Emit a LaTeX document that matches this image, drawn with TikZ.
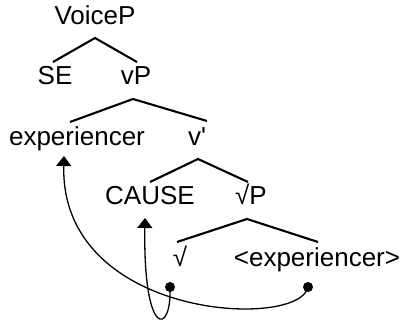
\documentclass[tikz,border=0pt]{standalone}
\usepackage{fontspec}
\setmainfont{Liberation Sans}
\newfontfamily\plainfont{Liberation Sans}
\usetikzlibrary{arrows.meta}
\begin{document}
\begin{tikzpicture}[x=1pt,y=-1pt,
  lbl/.style={anchor=base,inner sep=0pt,font=\plainfont\fontsize{26}{30}\selectfont},
  branch/.style={line width=2.1pt},
  mv/.style={line width=1.3pt,-{Triangle[width=15pt,length=10pt]}},
  dotn/.style={circle,fill=black,inner sep=0pt,minimum size=10pt}]
\useasboundingbox (0,0) rectangle (400,323);
\node[lbl] (voicep) at (95,25) {VoiceP};
\node[lbl] (se) at (55,85) {SE};
\node[lbl] (vp) at (136,85) {vP};
\node[lbl] (exp) at (77,146) {experiencer};
\node[lbl] (vbar) at (197,146) {v'};
\node[lbl] (cause) at (150,205) {CAUSE};
\node[lbl] (rootp) at (251,205) {\char"221A P};
\node[lbl] (root) at (180,267) {\char"221A};
\node[lbl] (texp) at (317,267) {<experiencer>};
\coordinate (a1) at (95,38);
\coordinate (a2) at (133,99);
\coordinate (a3) at (198,159);
\coordinate (a4) at (247,219);
\draw[branch] (53,62) -- (a1) -- (137,62);
\draw[branch] (70,122) -- (a2) -- (207,121);
\draw[branch] (150,182) -- (a3) -- (248,182);
\draw[branch] (177,242) -- (a4) -- (318,242);
\node[dotn] (d1) at (170,287) {};
\node[dotn] (d2) at (308,287) {};
\coordinate (t1) at (64,156);
\coordinate (t2) at (145,218);
\draw[mv] (d2.center) .. controls (300,330) and (60,320) .. (t1);
\draw[mv] (d1.center) .. controls (172,335) and (143,340) .. (t2);
\end{tikzpicture}
\end{document}
